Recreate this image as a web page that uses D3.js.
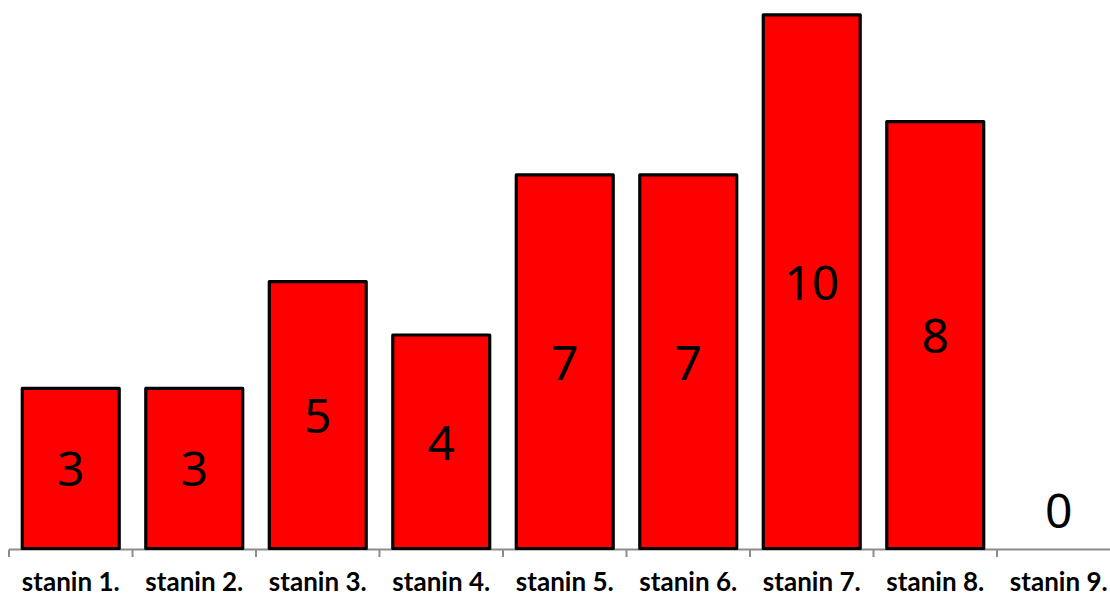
<!DOCTYPE html>
<html><head><meta charset="utf-8">
<script src="https://cdn.jsdelivr.net/npm/d3@7"></script>
<style>body{margin:0;background:#fff}svg{display:block}</style>
</head><body>
<svg id="c" width="1110" height="596"></svg>
<script>
const categories = ["stanin 1.","stanin 2.","stanin 3.","stanin 4.","stanin 5.","stanin 6.","stanin 7.","stanin 8.","stanin 9."];
const values = [3,3,5,4,7,7,10,8,0];

const svg = d3.select("#c");
const x = d3.scaleBand().domain(categories).range([9, 9 + 123.5*9]).paddingInner(0.215).paddingOuter(0.1075);
const y = d3.scaleLinear().domain([0,10]).range([548.5, 14.8]);

const step = x.step();
const x0 = 9;
svg.append("line").attr("x1",x0).attr("x2",1110).attr("y1",549.5).attr("y2",549.5)
  .attr("stroke","#8c8c8c").attr("stroke-width",2);
svg.selectAll("line.tick").data(d3.range(categories.length+1)).join("line")
  .attr("class","tick")
  .attr("x1",i=>x0+i*step).attr("x2",i=>x0+i*step)
  .attr("y1",549.5).attr("y2",557)
  .attr("stroke","#8c8c8c").attr("stroke-width",2);

svg.selectAll("rect.bar").data(values.map((v,i)=>({v,c:categories[i]})).filter(d=>d.v>0)).join("rect")
  .attr("class","bar")
  .attr("x",d=>x(d.c)).attr("width",x.bandwidth())
  .attr("y",d=>y(d.v)).attr("height",d=>y(0)-y(d.v))
  .attr("fill","#ff0000").attr("stroke","#000").attr("stroke-width",3.2).attr("stroke-linejoin","round");

svg.selectAll("text.val").data(values.map((v,i)=>({v,c:categories[i]}))).join("text")
  .attr("class","val")
  .attr("x",d=>x(d.c)+x.bandwidth()/2)
  .attr("y",d=>d.v>0 ? (y(d.v)+y(0))/2 + 18 : y(0)-21)
  .attr("text-anchor","middle")
  .attr("font-family","'Noto Sans', sans-serif").attr("font-size",48)
  .attr("fill","#000").text(d=>d.v);

svg.selectAll("text.cat").data(categories).join("text")
  .attr("class","cat")
  .attr("x",d=>x(d)+x.bandwidth()/2)
  .attr("y",591)
  .attr("text-anchor","middle")
  .attr("font-family","Lato, sans-serif").attr("font-weight","bold").attr("font-size",26)
  .attr("fill","#000").text(d=>d);
</script>
</body></html>
